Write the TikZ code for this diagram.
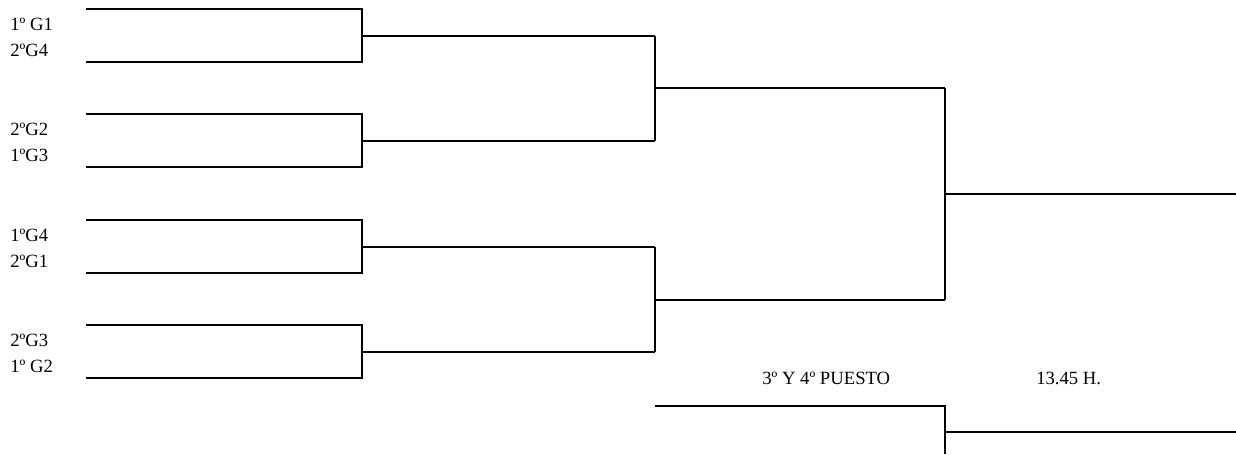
\documentclass[tikz,border=0pt]{standalone}
\usepackage{fontspec}
\setmainfont{Liberation Serif}
\usetikzlibrary{positioning}

\tikzset{
  bracket/.style={line width=1.5pt},
  team/.style={anchor=west,inner sep=0pt,font=\fontsize{14}{16}\selectfont},
}

\begin{document}
\begin{tikzpicture}[x=0.75pt,y=-0.75pt]
        \useasboundingbox (0,0) rectangle (1236,454);
        % first round
        \foreach \y/\a/\b [count=\i] in {9/1º G1/2ºG4,114/2ºG2/1ºG3,220/1ºG4/2ºG1,325/2ºG3/1º G2}{
          \node[team] (p\i a) at (10,\y+15) {\a};
          \node[team] (p\i b) at (10,\y+41) {\b};
          \coordinate (m\i) at (362,\y+27);
          \coordinate (q\i) at (655,\y+27);
          \draw[bracket] (86,\y) -| (m\i) |- (86,\y+53);
          \draw[bracket] (m\i) -- (q\i);
        }
        % semis
        \coordinate (sf1) at (655,88);
        \coordinate (sf2) at (655,300);
        \coordinate (f1) at (945,88);
        \coordinate (f2) at (945,300);
        \draw[bracket] (q1) -- (q2) (sf1) -- (f1);
        \draw[bracket] (q3) -- (q4) (sf2) -- (f2);
        % final
        \coordinate (fm) at (945,194);
        \coordinate (win) at (1236,194);
        \draw[bracket] (f1) -- (f2) (fm) -- (win);
        % third place
        \node[team] (tercero) at (762,378) {3º Y 4º PUESTO};
        \node[team] (hora) at (1036,378) {13.45 H.};
        \coordinate (t1) at (655,406);
        \coordinate (t2) at (945,454);
        \coordinate (tm) at (945,432);
        \coordinate (tw) at (1236,432);
        \draw[bracket] (t1) -| (t2) (tm) -- (tw);
      \end{tikzpicture}
\end{document}
